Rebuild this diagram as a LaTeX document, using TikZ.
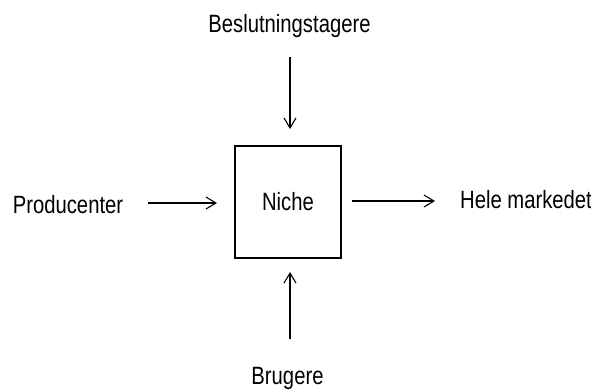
\documentclass[tikz,border=0pt]{standalone}
\usepackage{fontspec}
\setmainfont[FakeStretch=0.81]{Liberation Sans}
\usetikzlibrary{arrows.meta}
\begin{document}
\begin{tikzpicture}[x=1pt,y=-1pt,
  label text/.style={font=\fontsize{25}{28}\selectfont, inner sep=0pt, anchor=base},
  flow/.style={line width=1.1pt, -{Straight Barb[length=10pt,width=12pt,line width=1.1pt]}}]
  \useasboundingbox[fill=white] (0,0) rectangle (591,391);
  % central box
  \draw[line width=1.3pt] (235,146) rectangle (341,258);
  \node[label text] (niche) at (288,210) {Niche};
  % surrounding labels
  \node[label text] (besl) at (289.5,32) {Beslutningstagere};
  \node[label text] (prod) at (68,213) {Producenter};
  \node[label text, anchor=base west] (hele) at (460,208) {Hele markedet};
  \node[label text] (brug) at (287.5,384) {Brugere};
  % arrow end points
  \coordinate (t0) at (290,57);  \coordinate (t1) at (290,129);
  \coordinate (l0) at (148,203); \coordinate (l1) at (217,203);
  \coordinate (r0) at (352,201); \coordinate (r1) at (435,201);
  \coordinate (b0) at (290,339); \coordinate (b1) at (290,272);
  \draw[flow] (t0) -- (t1);
  \draw[flow] (l0) -- (l1);
  \draw[flow] (r0) -- (r1);
  \draw[flow] (b0) -- (b1);
\end{tikzpicture}
\end{document}
